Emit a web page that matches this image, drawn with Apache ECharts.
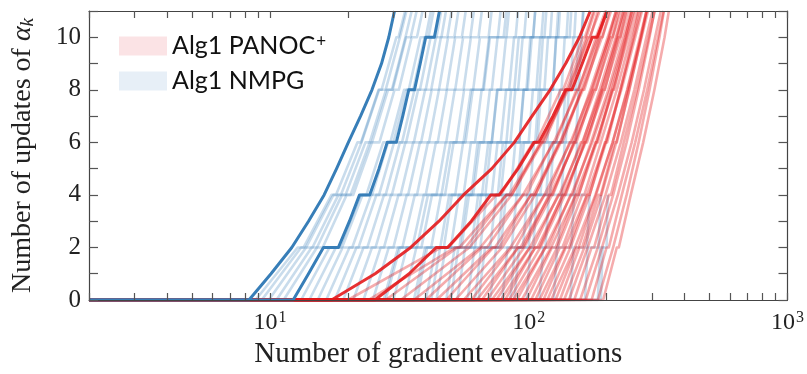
<!DOCTYPE html>
<html><head><meta charset="utf-8">
<script src="https://cdn.jsdelivr.net/npm/echarts@6/dist/echarts.min.js"></script>
<style>html,body{margin:0;padding:0;background:#fff}#c{width:807px;height:374px}</style>
</head><body><div id="c"></div><script>
// ---------- axes ----------
const X_MIN = 2, X_MAX = 1000;
const Y_MIN = 0, Y_MAX = 11;
const xTickValues = [2,3,4,5,6,7,8,9,10,20,30,40,50,60,70,80,90,100,200,300,400,500,600,700,800,900,1000];
const xLabelValues = [10, 100, 1000];
const yLabelValues = [0, 2, 4, 6, 8, 10];
const NAME_PANOC = 'Alg1 PANOC+';
const NAME_NMPG = 'Alg1 NMPG';

// ---------- highlighted runs ----------
const nmpgBoldA_x = [8.3, 10.1, 12.15, 14.1, 16.2, 18.1, 20.1, 22.4, 24.8, 27.0, 28.8, 30.3];
const nmpgBoldA_y = [0, 1, 2, 3, 4, 5, 6, 7, 8, 9, 10, 11];
const nmpgBoldB_x = [12.3, 14.1, 16.1, 18.4, 20.3, 22.2, 24.3, 26.4, 28.4, 30.8, 32.6, 34.4, 36.2, 38.1, 40.0, 43.2, 45.2];
const nmpgBoldB_y = [0, 1, 2, 2, 3, 4, 4, 5, 6, 6, 7, 8, 8, 9, 10, 10, 11];
const panocBoldA_x = [17.3, 25.5, 35, 45, 56, 72, 88, 103, 121, 139, 157, 173];
const panocBoldA_y = [0, 1, 2, 3, 4, 5, 6, 7, 8, 9, 10, 11];
const panocBoldB_x = [25.4, 34.5, 43.9, 48.6, 60, 71.4, 76.9, 91, 105, 109.5, 124, 138.7, 147, 161, 176, 184, 201];
const panocBoldB_y = [0, 1, 2, 2, 3, 4, 4, 5, 6, 6, 7, 8, 8, 9, 10, 10, 11];

// ---------- other runs: x at the update counts below ----------
const KNOT_Y = [0, 2, 2, 4, 4, 6, 6, 8, 8, 10, 10, 11];
const nmpgFaint = [
[8.8,12.8,13.5,17.3,18.0,21.8,22.5,26.3,27.0,30.8,31.4,33.3],
[9.3,13.2,14.6,18.4,19.6,23.4,24.8,28.6,29.8,33.6,35.0,36.9],
[9.9,13.8,13.8,17.6,18.8,22.6,22.6,26.4,28.0,31.8,31.8,33.7],
[10.6,14.5,16.0,19.8,21.0,24.8,26.5,30.3,31.5,35.3,37.0,38.9],
[11.3,15.2,15.2,19.0,20.5,24.3,24.3,28.1,29.6,33.4,33.4,35.3],
[13.2,17.0,18.6,22.4,23.6,27.4,29.2,33.0,34.4,38.2,40.0,41.9],
[14.2,18.0,19.0,22.8,24.8,28.6,30.0,33.8,35.8,39.6,41.0,42.9],
[15.3,19.1,20.8,24.6,26.4,30.2,32.4,36.2,38.0,41.8,44.0,45.9],
[16.5,20.3,22.0,25.8,28.0,31.8,33.6,37.4,40.0,43.8,46.0,47.9],
[17.8,21.6,23.8,27.6,29.6,33.4,36.0,39.8,42.0,45.8,48.5,50.4],
[19.2,23.0,25.6,29.4,32.0,35.8,38.4,42.2,45.0,48.8,51.6,53.5],
[21.0,24.8,27.6,31.4,34.2,38.0,41.2,45.0,48.2,52.0,55.2,57.1],
[23.0,26.8,30.0,33.8,37.0,40.8,44.5,48.3,52.0,55.8,59.5,61.4],
[25.0,28.8,32.5,36.3,40.0,43.8,48.0,51.8,56.0,59.8,64.0,65.9],
[27.5,31.3,35.5,39.3,44.0,47.8,52.5,56.3,61.0,64.8,70.0,71.9],
[28,31.8,37,40.8,46,49.8,56,59.8,67,70.8,80,82],
[30.0,33.8,38.5,42.3,47.5,51.3,57.0,60.8,66.5,70.3,76.0,77.9],
[33.0,36.8,42.0,45.8,52.0,55.8,62.0,65.8,72.0,75.8,82.0,83.9],
[36.0,39.8,45.5,49.3,56.0,59.8,67.0,70.8,78.0,81.8,89.0,90.9],
[37,40.5,47,50.5,60,63.5,72,75.5,88,91.5,104,106],
[40,43.8,50,53.8,61,64.8,72,75.8,84,87.8,96,97.9],
[42,45.5,54,57.5,68,71.5,82,85.5,98,101.5,115,117],
[44,47.8,55,58.8,66,69.8,78,81.8,91,94.8,104,105.9],
[48,51.8,60,63.8,72,75.8,85,88.8,99,102.8,112,114],
[50,53.5,62,65.5,76,79.5,92,95.5,110,113.5,128,130],
[53,56.8,65,68.8,78,81.8,92,95.8,107,110.8,121,123],
[58,61.8,71,74.8,85,88.8,100,103.8,115,118.8,130,132],
[62,65.5,76,79.5,90,93.5,106,109.5,124,127.5,144,146],
[64,67.8,78,81.8,92,95.8,108,111.8,124,127.8,140,142],
[71,74.8,86,89.8,101,104.8,118,121.8,134,137.8,150,152],
[79,82.8,95,98.8,111,114.8,128,131.8,145,148.8,160,163],
[85,88.5,100,103.5,117,120.5,135,138.5,152,155.5,160,162],
[88,91.8,104,107.8,121,124.8,139,142.8,156,160],
[98,101.8,116,119.8,134,137.8,152,156],
[110,113.8,130,133.8,150,154],
[125,128.8,146,149.8,166],
[145,149,168,172],
[165,169,186,190],
[185,189,196],
[190,193,200,202]
];
const panocFaint = [
[20,46,49,75,78,104,107,133,136,162,165,178],
[24,52,54,82,84,112,114,142,144,172,174,188],
[28,53,57,82,86,111,115,140,144,169,173,185],
[32,59,59,86,86,113,113,140,140,167,167,180],
[36,65,66,95,96,125,126,155,156,185,186,200],
[40,66,69,95,98,124,127,153,156,182,185,198],
[44,72,74,102,104,132,134,162,164,192,194,208],
[48,73,77,102,106,131,135,160,164,189,193,205],
[52,79,79,106,106,133,133,160,160,187,187,200],
[56,85,86,115,116,145,146,175,176,205,206,220],
[60,86,89,115,118,144,147,173,176,202,205,218],
[63,91,93,121,123,151,153,181,183,211,213,227],
[66,91,95,120,124,149,153,178,182,207,211,223],
[69,96,96,123,123,150,150,177,177,204,204,217],
[72,101,102,131,132,161,162,191,192,221,222,236],
[75,101,104,130,133,159,162,188,191,217,220,233],
[78,106,108,136,138,166,168,196,198,226,228,242],
[81,106,110,135,139,164,168,193,197,222,226,238],
[84,111,111,138,138,165,165,192,192,219,219,232],
[87,116,117,146,147,176,177,206,207,236,237,251],
[90,116,119,145,148,174,177,203,206,232,235,248],
[94,122,124,152,154,182,184,212,214,242,244,258],
[98,123,127,152,156,181,185,210,214,239,243,255],
[102,129,129,156,156,183,183,210,210,237,237,250],
[106,132,135,161,164,190,193,219,222,248,251,264],
[110,138,140,168,170,198,200,228,230,258,260,274],
[114,139,143,168,172,197,201,226,230,255,259,271],
[118,145,145,172,172,199,199,226,226,253,253,266],
[122,151,152,181,182,211,212,241,242,271,272,286],
[127,153,156,182,185,211,214,240,243,269,272,285],
[132,157,161,186,190,215,219,244,248,273,277,289],
[137,164,164,191,191,218,218,245,245,272,272,285],
[143,169,172,198,201,227,230,256,259,285,288,301],
[150,175,179,204,208,233,237,262,266,291,295,307],
[158,185,185,212,212,239,239,266,266,293,293,306],
[166,192,195,221,224,250,253,279,282,308,311,324],
[175,200,204,229,233,258,262,287,291,316,320,332],
[185,212,212,239,239,266,266,293,293,320,320,333],
[194,219,223,248,252,277,281,306,310,335,339,348]
];

// ---------- colours ----------
const BLUE = '#377eb8', RED = '#e41a1c';

function pairs(xs, ys) {
  const d = [[X_MIN, ys[0]]];
  xs.forEach((x, i) => d.push([x, ys[i]]));
  return d;
}
function lineSeries(name, data, color, width, opacity, z) {
  return {
    type: 'line', name, data, z, symbol: 'none', showSymbol: false, silent: true,
    animation: false, clip: true, emphasis: { disabled: true }, smooth: false,
    lineStyle: { color, width, opacity, join: 'round', cap: 'butt' },
    itemStyle: { color }
  };
}

const series = [];
nmpgFaint.forEach(xs => series.push(lineSeries(NAME_NMPG, pairs(xs, KNOT_Y.slice(0, xs.length)), BLUE, 2.6, 0.27, 2)));
panocFaint.forEach(xs => series.push(lineSeries(NAME_PANOC, pairs(xs, KNOT_Y.slice(0, xs.length)), RED, 2.6, 0.36, 3)));
series.push(lineSeries(NAME_PANOC, pairs(panocBoldA_x, panocBoldA_y), RED, 3, 0.9, 4));
series.push(lineSeries(NAME_PANOC, pairs(panocBoldB_x, panocBoldB_y), RED, 3, 0.9, 4));
series.push(lineSeries(NAME_NMPG, pairs(nmpgBoldA_x, nmpgBoldA_y), BLUE, 3, 1, 5));
series.push(lineSeries(NAME_NMPG, pairs(nmpgBoldB_x, nmpgBoldB_y), BLUE, 3, 1, 5));

const SERIF = 'Liberation Serif';
const AXC = '#444';
const TICKC = '#555';
const chart = echarts.init(document.getElementById('c'), null, { renderer: 'canvas' });
chart.setOption({
  animation: false,
  backgroundColor: '#fff',
  grid: { left: 89, right: 18, top: 11, bottom: 72, containLabel: false },
  legend: {
    orient: 'vertical', left: 119, top: 33, padding: 0, itemWidth: 48, itemHeight: 19, itemGap: 9,
    icon: 'rect', selectedMode: false,
    data: [
      { name: NAME_PANOC, icon: 'rect', itemStyle: { color: '#fbe3e5', opacity: 1 } },
      { name: NAME_NMPG, icon: 'rect', itemStyle: { color: '#e7eff7', opacity: 1 } }
    ],
    formatter: n => n === NAME_PANOC ? 'Alg1 PANOC{sup|+}' : n,
    textStyle: {
      fontFamily: 'Lato', fontSize: 25, color: '#111', lineHeight: 26,
      rich: { sup: { fontFamily: 'Lato', fontSize: 17, color: '#111', verticalAlign: 'top', lineHeight: 26, padding: [0, 0, 8, 1] } }
    }
  },
  xAxis: [{
    type: 'log', logBase: 10, min: X_MIN, max: X_MAX, position: 'bottom', z: 10,
    axisLine: { show: true, onZero: false, lineStyle: { color: AXC, width: 1.2 } },
    axisTick: { show: true, inside: true, length: 7, customValues: xTickValues, lineStyle: { color: TICKC, width: 1.2 } },
    axisLabel: {
      show: true, customValues: xLabelValues, margin: 10, color: '#222',
      formatter: v => '{b|10}{s|' + Math.round(Math.log10(v)) + '}',
      rich: {
        b: { fontFamily: SERIF, fontSize: 24, color: '#222' },
        s: { fontFamily: SERIF, fontSize: 16, color: '#222', verticalAlign: 'top', padding: [0, 0, 10, 1] }
      }
    },
    splitLine: { show: false },
    name: 'Number of gradient evaluations', nameLocation: 'middle', nameGap: 40,
    nameTextStyle: { fontFamily: SERIF, fontSize: 29, color: '#222' }
  }, {
    type: 'log', logBase: 10, min: X_MIN, max: X_MAX, position: 'top', z: 10,
    axisLine: { show: true, onZero: false, lineStyle: { color: AXC, width: 1.2 } },
    axisTick: { show: true, inside: true, length: 7, customValues: xTickValues, lineStyle: { color: TICKC, width: 1.2 } },
    axisLabel: { show: false }, splitLine: { show: false }
  }],
  yAxis: [{
    type: 'value', min: Y_MIN, max: Y_MAX, interval: 1, position: 'left', z: 10,
    axisLine: { show: true, onZero: false, lineStyle: { color: AXC, width: 1.2 } },
    axisTick: { show: true, inside: true, length: 9, lineStyle: { color: TICKC, width: 1.2 } },
    axisLabel: {
      margin: 8, color: '#222', fontFamily: SERIF, fontSize: 25,
      formatter: v => yLabelValues.indexOf(v) >= 0 ? String(v) : ''
    },
    splitLine: { show: false },
    name: 'Number of updates of {a|α}{k|k}', nameLocation: 'middle', nameGap: 52, nameRotate: 90,
    nameTextStyle: {
      fontFamily: SERIF, fontSize: 28, color: '#222',
      rich: {
        a: { fontFamily: SERIF, fontSize: 28, fontStyle: 'italic', color: '#222' },
        k: { fontFamily: SERIF, fontSize: 19, fontStyle: 'italic', color: '#222', padding: [10, 0, 0, 0] }
      }
    }
  }, {
    type: 'value', min: Y_MIN, max: Y_MAX, interval: 1, position: 'right', z: 10,
    axisLine: { show: true, onZero: false, lineStyle: { color: AXC, width: 1.2 } },
    axisTick: { show: true, inside: true, length: 9, lineStyle: { color: TICKC, width: 1.2 } },
    axisLabel: { show: false }, splitLine: { show: false }
  }],
  series
});
</script></body></html>
